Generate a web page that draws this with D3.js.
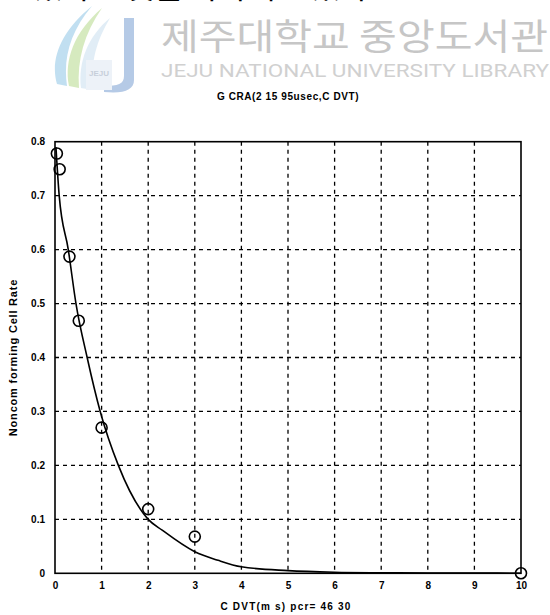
<!DOCTYPE html>
<html>
<head>
<meta charset="utf-8">
<script src="https://cdn.jsdelivr.net/npm/d3@7"></script>
<style>
  html, body { margin: 0; padding: 0; background: #fff; }
  svg { display: block; }
</style>
</head>
<body>
<svg id="chart" width="550" height="615"></svg>
<script>
// Measured nonconforming cell rate at each CDVT setting (ms)
const cdvtMeasured = [0.04, 0.1, 0.31, 0.51, 1.0, 2.0, 3.0, 10];
const ncrMeasured  = [0.778, 0.749, 0.587, 0.468, 0.27, 0.119, 0.068, 0.0];

// Analytic curve, sampled along the CDVT axis
const cdvtCurve = [0.02, 0.09, 0.285, 0.45, 0.69, 0.97, 1.36, 2.0, 2.3, 3.0, 3.5, 4.0, 5.0, 6.0, 7.0, 8.0, 9.0, 10.0];
const ncrCurve  = [0.79, 0.70, 0.60, 0.50, 0.40, 0.30, 0.20, 0.10, 0.08, 0.04, 0.024, 0.012, 0.005, 0.002, 0.001, 0.0005, 0.0003, 0.0002];

const xTicks = [0, 1, 2, 3, 4, 5, 6, 7, 8, 9, 10];
const yTicks = [0, 0.1, 0.2, 0.3, 0.4, 0.5, 0.6, 0.7, 0.8];

const titleText = "G CRA(2 15 95usec,C DVT)";
const xLabel = "C DVT(m s) pcr= 46 30";
const yLabel = "Noncom forming Cell Rate";

const svg = d3.select("#chart");

// ---- page header: running text line and library banner ----
svg.append("text")
  .attr("x", -2).attr("y", -2)
  .attr("font-family", "Noto Sans CJK KR")
  .attr("font-size", 31)
  .attr("fill", "#000")
  .text("고 있다는 것을 나타내고 있다.");

const logo = svg.append("g").attr("opacity", 0.55);
logo.append("path")
  .attr("d", "M57,84 C50,60 60,32 92,6 C70,32 63,58 67,86 Z")
  .attr("fill", "#8fc6e6");
logo.append("path")
  .attr("d", "M69,86 C64,60 74,32 102,8 C84,34 77,60 79,88 Z")
  .attr("fill", "#b6d98c");
logo.append("path")
  .attr("d", "M81,88 C78,62 88,36 110,18 C97,40 90,62 93,90 Z")
  .attr("fill", "#c9dff0");
logo.append("path")
  .attr("d", "M124,18 L134,18 L134,80 C134,90 124,94 104,92 L104,86 C118,86 124,84 124,76 Z")
  .attr("fill", "#7a9fd2");
logo.append("rect").attr("x", 86).attr("y", 60).attr("width", 26).attr("height", 30)
  .attr("fill", "#dfe8f3");
logo.append("text").attr("x", 99).attr("y", 76).attr("text-anchor", "middle")
  .attr("font-family", "Liberation Sans").attr("font-size", 8).attr("font-weight", "bold")
  .attr("fill", "#9aa9bd").text("JEJU");

svg.append("text")
  .attr("x", 161).attr("y", 50)
  .attr("font-family", "Noto Sans CJK KR")
  .attr("font-size", 36)
  .attr("textLength", 387)
  .attr("lengthAdjust", "spacingAndGlyphs")
  .attr("fill", "#c6c6c6")
  .text("제주대학교 중앙도서관");

svg.append("text")
  .attr("x", 161).attr("y", 77)
  .attr("font-family", "Roboto")
  .attr("font-size", 18)
  .attr("textLength", 388)
  .attr("lengthAdjust", "spacingAndGlyphs")
  .attr("fill", "#d0d0d0")
  .text("JEJU NATIONAL UNIVERSITY  LIBRARY");

// ---- plot ----
const margin = { left: 55, top: 141.7, right: 29, bottom: 41.7 };
const W = 550 - margin.left - margin.right;
const H = 615 - margin.top - margin.bottom;

const x = d3.scaleLinear().domain([0, 10]).range([0, W]);
const y = d3.scaleLinear().domain([0, 0.8]).range([H, 0]);

const g = svg.append("g").attr("transform", `translate(${margin.left},${margin.top})`);

// dashed grid
g.append("g").selectAll("line").data(xTicks.slice(1, -1)).join("line")
  .attr("x1", d => x(d)).attr("x2", d => x(d))
  .attr("y1", 0).attr("y2", H)
  .attr("stroke", "#000").attr("stroke-width", 1.3)
  .attr("stroke-dasharray", "4,4");
g.append("g").selectAll("line").data(yTicks.slice(1, -1)).join("line")
  .attr("y1", d => y(d)).attr("y2", d => y(d))
  .attr("x1", 0).attr("x2", W)
  .attr("stroke", "#000").attr("stroke-width", 1.3)
  .attr("stroke-dasharray", "4,4");

// axes with labels only
const xAxis = d3.axisBottom(x).tickValues(xTicks).tickSize(0).tickPadding(9)
  .tickFormat(d3.format("d"));
const yAxis = d3.axisLeft(y).tickValues(yTicks).tickSize(0).tickPadding(10)
  .tickFormat(d => d === 0 ? "0" : d3.format(".1f")(d));

const gx = g.append("g").attr("transform", `translate(0,${H})`).call(xAxis);
const gy = g.append("g").call(yAxis);
[gx, gy].forEach(a => {
  a.select(".domain").remove();
  a.selectAll("text")
    .attr("font-family", "Liberation Sans")
    .attr("font-size", 10)
    .attr("font-weight", "bold")
    .attr("fill", "#000");
});

// frame
g.append("rect").attr("x", 0).attr("y", 0).attr("width", W).attr("height", H)
  .attr("fill", "none").attr("stroke", "#000").attr("stroke-width", 1.6);

// fitted curve
const curvePts = cdvtCurve.map((c, i) => [c, ncrCurve[i]]);
g.append("path")
  .datum(curvePts)
  .attr("fill", "none").attr("stroke", "#000").attr("stroke-width", 1.6)
  .attr("d", d3.line().x(d => x(d[0])).y(d => y(d[1])).curve(d3.curveMonotoneX));

// measured points
g.append("g").selectAll("circle")
  .data(cdvtMeasured.map((c, i) => [c, ncrMeasured[i]]))
  .join("circle")
  .attr("cx", d => x(d[0])).attr("cy", d => y(d[1]))
  .attr("r", 5.5)
  .attr("fill", "none").attr("stroke", "#000").attr("stroke-width", 1.6);

// titles
svg.append("text")
  .attr("x", 288).attr("y", 100).attr("text-anchor", "middle")
  .attr("font-family", "Liberation Sans").attr("font-size", 10).attr("font-weight", "bold")
  .attr("letter-spacing", 0.6)
  .text(titleText);

svg.append("text")
  .attr("x", 286).attr("y", 610).attr("text-anchor", "middle")
  .attr("font-family", "Liberation Sans").attr("font-size", 10).attr("font-weight", "bold")
  .attr("letter-spacing", 1.2)
  .text(xLabel);

svg.append("text")
  .attr("transform", `translate(17,${margin.top + H / 2}) rotate(-90)`)
  .attr("text-anchor", "middle")
  .attr("font-family", "Liberation Sans").attr("font-size", 11).attr("font-weight", "bold")
  .attr("letter-spacing", 0.8)
  .text(yLabel);
</script>
</body>
</html>
